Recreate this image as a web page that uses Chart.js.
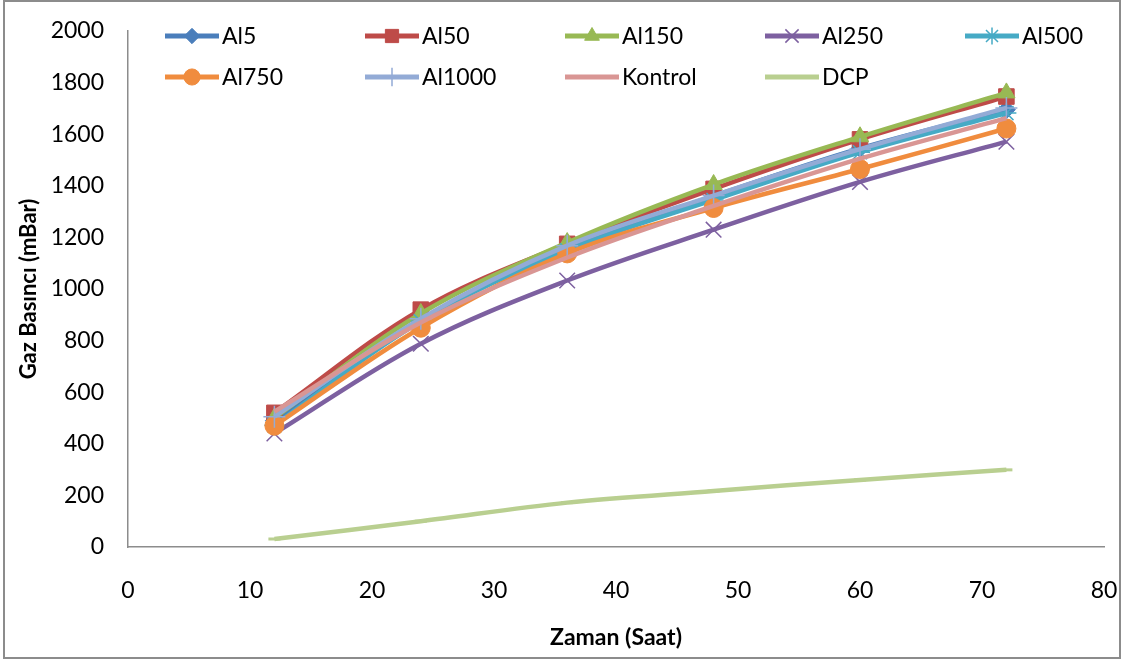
<!DOCTYPE html>
<html>
<head>
<meta charset="utf-8">
<script src="https://cdn.jsdelivr.net/npm/chart.js@4/dist/chart.umd.min.js"></script>
<style>
  html, body { margin: 0; padding: 0; background: #ffffff; }
  #wrap { position: relative; width: 1124px; height: 660px; }
</style>
</head>
<body>
<div id="wrap"><canvas id="c" width="1124" height="660"></canvas></div>
<script>
// Sampling times (hours)
const hours = [12, 24, 36, 48, 60, 72];

// Gas pressure (mBar) per treatment
const al5     = [490, 880, 1160, 1360, 1545, 1695];
const al50    = [520, 920, 1175, 1388, 1580, 1746];
const al150   = [500, 905, 1180, 1405, 1590, 1760];
const al250   = [440, 788, 1033, 1230, 1415, 1571];
const al500   = [472, 875, 1150, 1345, 1530, 1682];
const al750   = [470, 850, 1138, 1314, 1465, 1622];
const al1000  = [505, 885, 1168, 1362, 1542, 1702];
const kontrol = [525, 870, 1122, 1322, 1505, 1662];
const dcp     = [31, 100, 172, 217, 260, 299];

const seriesNames = ['Al5', 'Al50', 'Al150', 'Al250', 'Al500', 'Al750', 'Al1000', 'Kontrol', 'DCP'];
const xTicks = [0, 10, 20, 30, 40, 50, 60, 70, 80];
const yTicks = [0, 200, 400, 600, 800, 1000, 1200, 1400, 1600, 1800, 2000];

const FONT = 'Lato, "Open Sans", sans-serif';

const styles = [
  { color: '#4A7EBB', point: 'rectRot',  r: 9,   bw: 1 },
  { color: '#BE4B48', point: 'rect',     r: 11,  bw: 1 },
  { color: '#98B954', point: 'triangle', r: 10,  bw: 1 },
  { color: '#7D60A0', point: 'crossRot', r: 11,  bw: 1.5 },
  { color: '#46AAC5', point: 'star',     r: 10,  bw: 1.5 },
  { color: '#F08C3E', point: 'circle',   r: 9.5, bw: 1 },
  { color: '#93ABD6', point: 'cross',    r: 11,  bw: 1.5 },
  { color: '#D99694', point: false,      r: 0,   bw: 0 },
  { color: '#B9CF90', point: 'line',     r: 6,   bw: 3 }
];
const values = [al5, al50, al150, al250, al500, al750, al1000, kontrol, dcp];

const datasets = values.map((vals, i) => ({
  label: seriesNames[i],
  data: hours.map((h, k) => ({ x: h, y: vals[k] })),
  borderColor: styles[i].color,
  backgroundColor: styles[i].color,
  pointBackgroundColor: styles[i].color,
  pointBorderColor: styles[i].color,
  pointStyle: styles[i].point,
  pointRadius: styles[i].r,
  pointBorderWidth: styles[i].bw,
  borderWidth: 4.5,
  tension: 0.35,
  borderCapStyle: 'butt',
  // later series are painted above earlier ones
  order: values.length - i
}));

// Two-row legend laid out on a fixed grid inside the plot
const gridLegend = {
  id: 'gridLegend',
  afterDraw(chart) {
    const ctx = chart.ctx;
    const colX = [165, 365, 565, 765, 965];
    const rowY = [36, 77];
    const lineLen = 54;
    ctx.save();
    seriesNames.forEach((name, i) => {
      const x0 = colX[i % 5];
      const y = rowY[Math.floor(i / 5)];
      const st = styles[i];
      ctx.strokeStyle = st.color;
      ctx.lineWidth = 5;
      ctx.lineCap = 'butt';
      ctx.beginPath();
      ctx.moveTo(x0, y);
      ctx.lineTo(x0 + lineLen, y);
      ctx.stroke();
      if (st.point && st.point !== 'line') {
        ctx.fillStyle = st.color;
        ctx.strokeStyle = st.color;
        ctx.lineWidth = st.bw;
        Chart.helpers.drawPoint(ctx, {
          pointStyle: st.point, radius: st.r * 0.85, rotation: 0, borderWidth: st.bw
        }, x0 + lineLen / 2, y);
      }
      ctx.fillStyle = '#000000';
      ctx.font = '23px ' + FONT;
      ctx.textBaseline = 'middle';
      ctx.textAlign = 'left';
      ctx.fillText(name, x0 + lineLen + 3, y + 1);
    });
    ctx.restore();
  }
};

// Outer frame of the chart
const frame = {
  id: 'frame',
  beforeDraw(chart) {
    const ctx = chart.ctx;
    ctx.save();
    ctx.fillStyle = '#ffffff';
    ctx.fillRect(0, 0, chart.width, chart.height);
    ctx.strokeStyle = '#8c8c8c';
    ctx.lineWidth = 2;
    ctx.strokeRect(4, 1, 1116, 657);
    ctx.restore();
  }
};

new Chart(document.getElementById('c'), {
  type: 'line',
  data: { datasets },
  plugins: [frame, gridLegend],
  options: {
    responsive: false,
    animation: false,
    layout: { padding: { left: 0, top: 31, right: 20, bottom: 0 } },
    plugins: {
      legend: { display: false },
      tooltip: { enabled: false }
    },
    scales: {
      x: {
        type: 'linear',
        min: 0, max: 80,
        afterBuildTicks(scale) { scale.ticks = xTicks.map(v => ({ value: v })); },
        afterFit(scale) {
          scale.height = 113;
          scale.paddingLeft = 0;
          scale.paddingRight = 0;
        },
        grid: { display: false, drawTicks: false },
        border: { display: true, color: '#8c8c8c', width: 1.5 },
        ticks: {
          color: '#000000',
          font: { family: FONT, size: 23 },
          padding: 30,
          maxRotation: 0,
          callback: v => String(v)
        },
        title: {
          display: true,
          text: 'Zaman (Saat)',
          color: '#000000',
          font: { family: FONT, size: 23, weight: 'bold' },
          padding: { top: 0, bottom: 9 },
          align: 'center'
        }
      },
      y: {
        min: 0, max: 2000,
        afterBuildTicks(scale) { scale.ticks = yTicks.map(v => ({ value: v })); },
        afterFit(scale) {
          scale.width = 128;
          scale.paddingTop = 0;
          scale.paddingBottom = 0;
        },
        grid: { display: false, drawTicks: false },
        border: { display: true, color: '#8c8c8c', width: 1.5 },
        ticks: {
          color: '#000000',
          font: { family: FONT, size: 23 },
          padding: 24,
          callback: v => String(v)
        },
        title: {
          display: true,
          text: 'Gaz Basıncı (mBar)',
          color: '#000000',
          font: { family: FONT, size: 22, weight: 'bold' },
          padding: { top: 16, bottom: 0 }
        }
      }
    }
  }
});
</script>
</body>
</html>
